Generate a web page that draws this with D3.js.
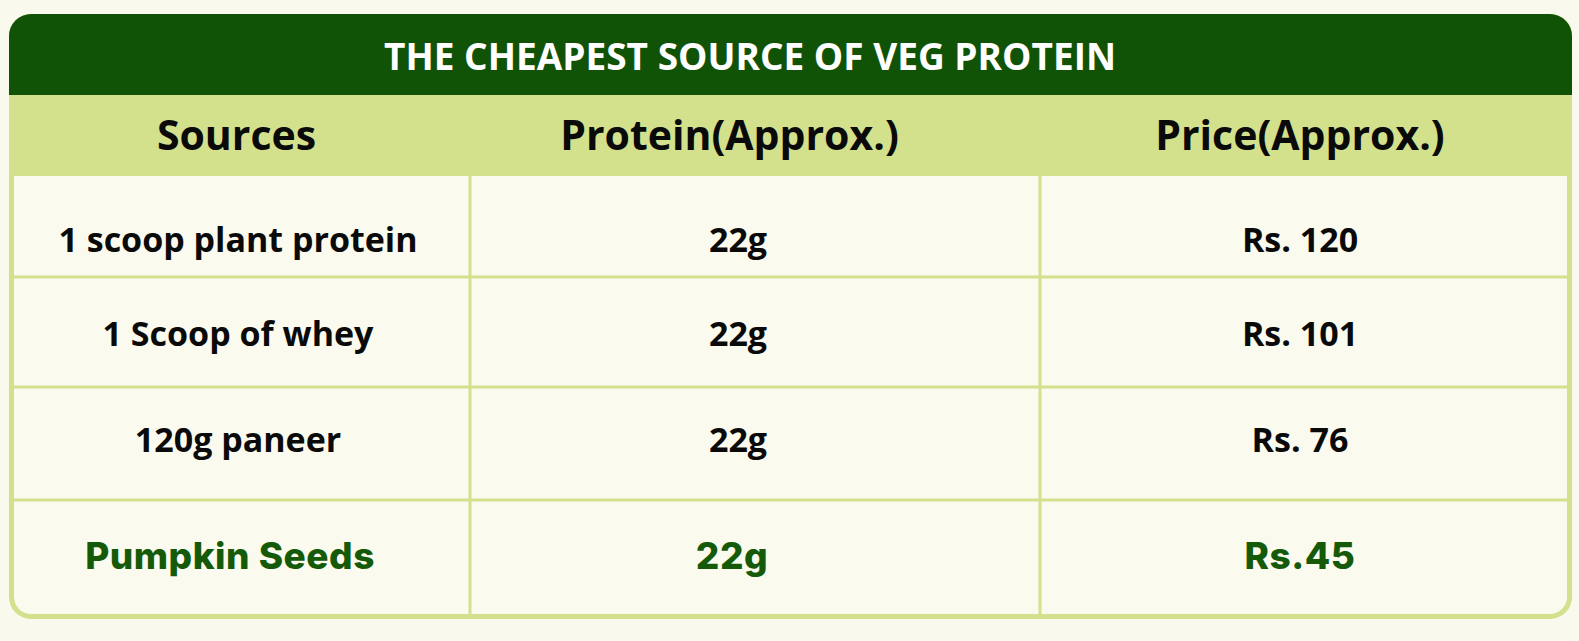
<!DOCTYPE html>
<html>
<head>
<meta charset="utf-8">
<script src="https://cdn.jsdelivr.net/npm/d3@7"></script>
<style>
  html, body { margin: 0; padding: 0; background: #f9f9ee; }
  svg { display: block; }
</style>
</head>
<body>
<svg id="chart" width="1579" height="641"></svg>
<script>
// ---- data ----
const title = "THE CHEAPEST SOURCE OF VEG PROTEIN";
const headers = ["Sources", "Protein(Approx.)", "Price(Approx.)"];
const sources = ["1 scoop plant protein", "1 Scoop of whey", "120g paneer", "Pumpkin Seeds"];
const proteinGrams = [22, 22, 22, 22];
const priceLabels = ["Rs. 120", "Rs. 101", "Rs. 76", "Rs.45"];
const highlightRow = "Pumpkin Seeds";

// ---- layout ----
const boxL = 9, boxR = 1572, boxT = 14, boxB = 619;
const border = 5, radius = 22;
const titleBottom = 95, headerBottom = 176;
const darkGreen = "#115306", lightGreen = "#d3e08c", cellBg = "#fbfaee", greenText = "#145a08";

const svg = d3.select("#chart");

const colX = d3.scaleLinear().domain([0, 1, 2, 3]).range([boxL + border, 470, 1040, boxR - border]);
const rowY = d3.scaleLinear().domain([0, 1, 2, 3, 4]).range([headerBottom, 277, 387, 500, boxB - border]);
const textX = d3.scaleOrdinal().domain([0, 1, 2]).range([238, 738, 1300]);
const headerX = d3.scaleOrdinal().domain([0, 1, 2]).range([236.5, 729.5, 1300]);
const baseline = d3.scaleLinear().domain([0, 1, 2, 3]).range([252, 346, 452, 569]);

// outer rounded box (border colour)
svg.append("rect")
  .attr("x", boxL).attr("y", boxT)
  .attr("width", boxR - boxL).attr("height", boxB - boxT)
  .attr("rx", radius).attr("ry", radius)
  .attr("fill", lightGreen);

// body background
const clipId = "innerClip";
svg.append("clipPath").attr("id", clipId)
  .append("rect")
  .attr("x", boxL + border).attr("y", boxT)
  .attr("width", boxR - boxL - 2 * border).attr("height", boxB - boxT - border)
  .attr("rx", radius - border).attr("ry", radius - border);

svg.append("rect")
  .attr("clip-path", `url(#${clipId})`)
  .attr("x", boxL + border).attr("y", headerBottom)
  .attr("width", boxR - boxL - 2 * border).attr("height", boxB - border - headerBottom)
  .attr("fill", cellBg);

// title band (rounded top corners only)
const r = radius;
const tb = d3.path();
tb.moveTo(boxL, titleBottom);
tb.lineTo(boxL, boxT + r);
tb.arcTo(boxL, boxT, boxL + r, boxT, r);
tb.lineTo(boxR - r, boxT);
tb.arcTo(boxR, boxT, boxR, boxT + r, r);
tb.lineTo(boxR, titleBottom);
tb.closePath();
svg.append("path").attr("d", tb.toString()).attr("fill", darkGreen);

// header band
svg.append("rect")
  .attr("x", boxL).attr("y", titleBottom)
  .attr("width", boxR - boxL).attr("height", headerBottom - titleBottom)
  .attr("fill", lightGreen);

// grid lines
const grid = svg.append("g").attr("stroke", lightGreen).attr("stroke-width", 3);
grid.selectAll("line.v").data([1, 2]).join("line").attr("class", "v")
  .attr("x1", d => colX(d)).attr("x2", d => colX(d))
  .attr("y1", headerBottom).attr("y2", boxB - border);
grid.selectAll("line.h").data([1, 2, 3]).join("line").attr("class", "h")
  .attr("x1", boxL + border).attr("x2", boxR - border)
  .attr("y1", d => rowY(d)).attr("y2", d => rowY(d));

// title
svg.append("text")
  .attr("x", 750).attr("y", 70)
  .attr("text-anchor", "middle")
  .attr("font-family", "'Open Sans', sans-serif")
  .attr("font-weight", 700)
  .attr("font-size", 38)
  .attr("textLength", 732).attr("lengthAdjust", "spacingAndGlyphs")
  .attr("fill", "#ffffff")
  .text(title);

// headers
svg.selectAll("text.header").data(headers).join("text")
  .attr("class", "header")
  .attr("x", (d, i) => headerX(i))
  .attr("y", 150)
  .attr("text-anchor", "middle")
  .attr("font-family", "'Open Sans', sans-serif")
  .attr("font-weight", 700)
  .attr("font-size", 41)
  .attr("fill", "#0a0a0a")
  .text(d => d);

// body cells
const rows = sources.map((s, i) => ({
  cells: [s, `${proteinGrams[i]}g`, priceLabels[i]],
  highlight: s === highlightRow,
  i
}));

const rowG = svg.selectAll("g.row").data(rows).join("g").attr("class", "row");
rowG.selectAll("text").data(d => d.cells.map((c, j) => ({ c, j, hl: d.highlight, i: d.i }))).join("text")
  .attr("x", d => textX(d.j) + (d.hl ? [-8, -6, 0][d.j] : 0))
  .attr("y", d => baseline(d.i))
  .attr("text-anchor", "middle")
  .attr("font-family", d => d.hl ? "Inter, 'Open Sans', sans-serif" : "'Open Sans', sans-serif")
  .attr("font-weight", d => d.hl ? 800 : 700)
  .attr("font-size", d => d.hl ? 37 : 34)
  .attr("letter-spacing", d => d.hl ? 0.5 : 0)
  .attr("fill", d => d.hl ? greenText : "#0a0a0a")
  .text(d => d.c);
</script>
</body>
</html>
